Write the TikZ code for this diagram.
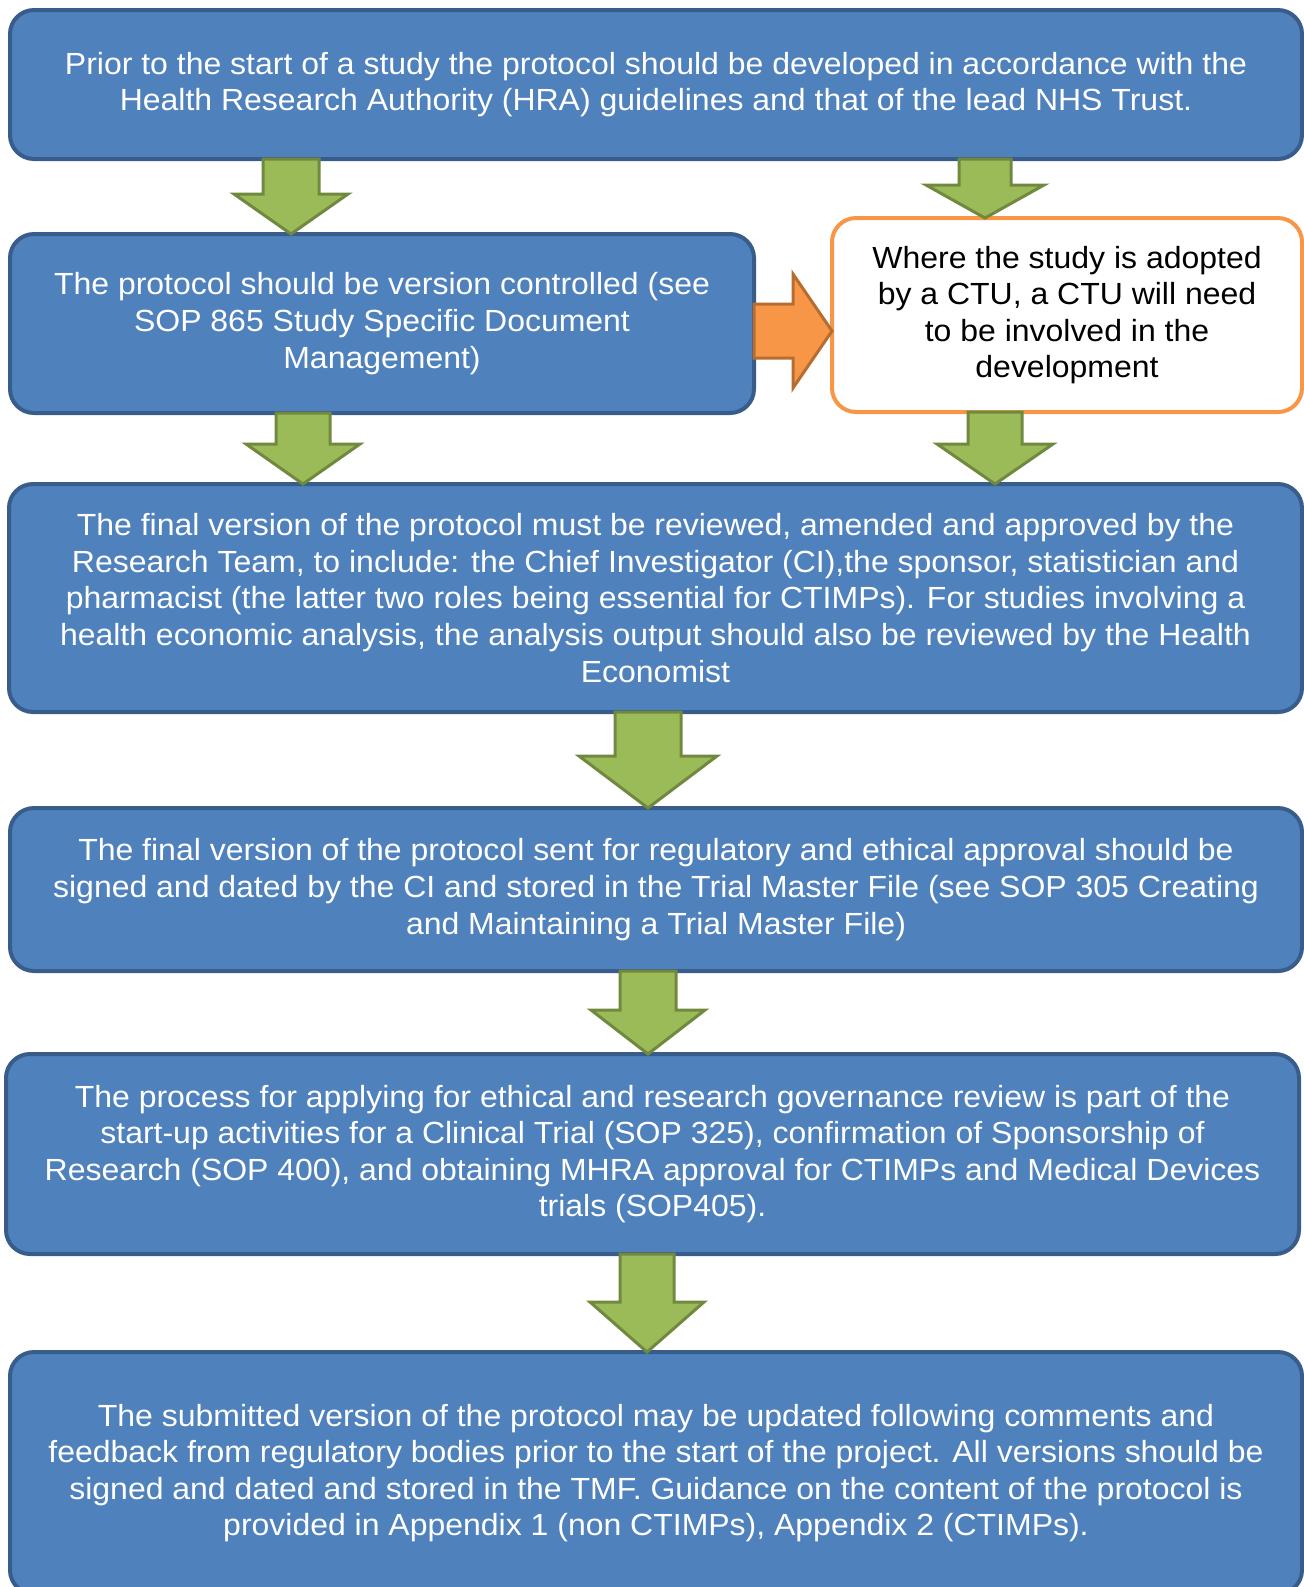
\documentclass[tikz,border=0pt]{standalone}
\usepackage{fontspec}
\setmainfont{Liberation Sans}[FakeStretch=1.045]
\usetikzlibrary{calc}

\definecolor{boxblue}{RGB}{79,129,189}
\definecolor{boxline}{RGB}{56,93,138}
\definecolor{arrowgreen}{RGB}{155,187,89}
\definecolor{arrowline}{RGB}{113,137,63}
\definecolor{ctuorange}{RGB}{247,150,70}
\definecolor{ctuline}{RGB}{182,109,49}

% down block arrow: upper node, lower node, x, shaft half width, head half width, head length
\newcommand\gdown[6]{%
\draw [greenarrow] ($(#1.south -| #3,0)+(-#4,0)$) -- ($(#1.south -| #3,0)+(#4,0)$) -- ($(#2.north -| #3,0)+(#4,-#6)$) -- ($(#2.north -| #3,0)+(#5,-#6)$) -- (#2.north -| #3,0) -- ($(#2.north -| #3,0)+(-#5,-#6)$) -- ($(#2.north -| #3,0)+(-#4,-#6)$) -- cycle ;}

\begin{document}
\begin{tikzpicture}[x=0.5pt,y=0.5pt,yscale=-1,xscale=1,
  stepbox/.style={draw=boxline,fill=boxblue,line width=2pt,rounded corners=12pt,outer sep=0pt,inner sep=0pt,text=white,align=center,font=\fontsize{15.3}{18.3}\selectfont},
  ctubox/.style={stepbox,draw=ctuorange,fill=white,text=black},
  greenarrow/.style={draw=arrowline,fill=arrowgreen,line width=1.5pt},
  orangearrow/.style={draw=ctuline,fill=ctuorange,line width=1.5pt}]
\useasboundingbox (0,0) rectangle (1304,1587);
\clip (0,0) rectangle (1304,1587);

%Shape: Rounded Rectangle [id:start]
\node [stepbox,minimum width=646pt,minimum height=74.5pt] (start) at (656,84.5) {Prior to the start of a study the protocol should be developed in accordance with the\\Health Research Authority (HRA) guidelines and that of the lead NHS Trust.};
%Shape: Rounded Rectangle [id:version]
\node [stepbox,minimum width=372pt,minimum height=89.5pt] (version) at (382,323.5) {The protocol should be version controlled (see\\SOP 865 Study Specific Document\\Management)};
%Shape: Rounded Rectangle [id:ctu]
\node [ctubox,minimum width=235pt,minimum height=97pt] (ctu) at (1067,315) {Where the study is adopted\\by a CTU, a CTU will need\\to be involved in the\\development};
%Shape: Rounded Rectangle [id:review]
\node [stepbox,minimum width=646.5pt,minimum height=114pt] (review) at (655.5,598) {The final version of the protocol must be reviewed, amended and approved by the\\Research Team, to include: the Chief Investigator (CI),the sponsor, statistician and\\pharmacist (the latter two roles being essential for CTIMPs). For studies involving a\\health economic analysis, the analysis output should also be reviewed by the Health\\Economist};
%Shape: Rounded Rectangle [id:signed]
\node [stepbox,minimum width=646pt,minimum height=81.5pt] (signed) at (656,889.5) {The final version of the protocol sent for regulatory and ethical approval should be\\signed and dated by the CI and stored in the Trial Master File (see SOP 305 Creating\\and Maintaining a Trial Master File)};
%Shape: Rounded Rectangle [id:apply]
\node [stepbox,minimum width=646.5pt,minimum height=100pt] (apply) at (652.5,1154) {The process for applying for ethical and research governance review is part of the\\start-up activities for a Clinical Trial (SOP 325), confirmation of Sponsorship of\\Research (SOP 400), and obtaining MHRA approval for CTIMPs and Medical Devices\\trials (SOP405).};
%Shape: Rounded Rectangle [id:update]
\node [stepbox,minimum width=646pt,minimum height=121pt] (update) at (656,1473) {The submitted version of the protocol may be updated following comments and\\feedback from regulatory bodies prior to the start of the project. All versions should be\\signed and dated and stored in the TMF. Guidance on the content of the protocol is\\provided in Appendix 1 (non CTIMPs), Appendix 2 (CTIMPs).};

%Down Arrows
\gdown{start}{version}{291}{28}{57}{40}
\gdown{start}{ctu}{985}{26}{59}{33}
\gdown{version}{review}{303}{27}{57}{40}
\gdown{ctu}{review}{995}{27}{58}{40}
\gdown{review}{signed}{648}{33}{69}{52}
\gdown{signed}{apply}{648}{28}{57}{44}
\gdown{apply}{update}{647}{27}{57}{50}

%Right Arrow
\coordinate (mid) at (0,331);
\draw [orangearrow] (version.east |- mid) ++(0,-27) -- ($(ctu.west |- mid)+(-39,-27)$) -- ($(ctu.west |- mid)+(-39,-57)$) -- (ctu.west |- mid) -- ($(ctu.west |- mid)+(-39,57)$) -- ($(ctu.west |- mid)+(-39,27)$) -- ($(version.east |- mid)+(0,27)$) -- cycle ;

\end{tikzpicture}
\end{document}
